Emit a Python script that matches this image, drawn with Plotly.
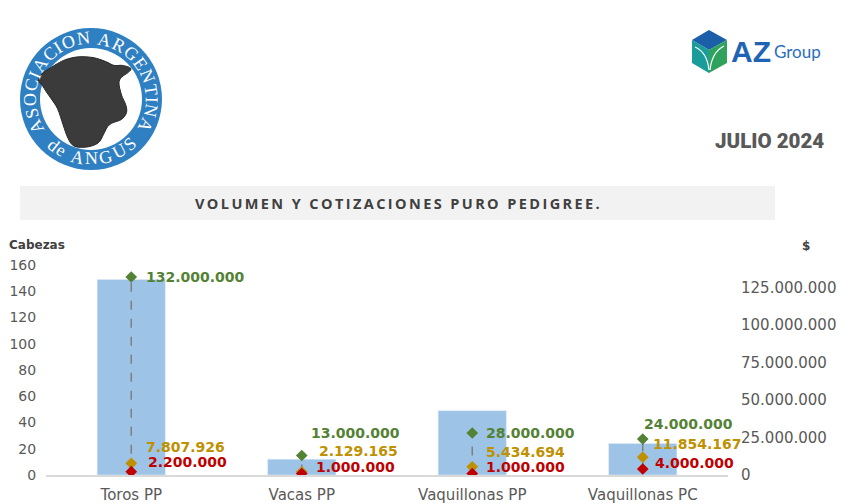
import math
import plotly.graph_objects as go

# --- data ---
categorias = ["Toros PP", "Vacas PP", "Vaquillonas PP", "Vaquillonas PC"]
cabezas = [149, 12, 49, 24]
precio_max = [132000000, 13000000, 28000000, 24000000]
precio_prom = [7807926, 2129165, 5434694, 11854167]
precio_min = [2200000, 1000000, 1000000, 4000000]

left_ticks = [0, 20, 40, 60, 80, 100, 120, 140, 160]
right_ticks = [0, 25000000, 50000000, 75000000, 100000000, 125000000]

# label offsets (px) for each point: (xshift, yshift)
off_max = [(13, 0), (7, 23), (12, 0), (-1, 15)]
off_prom = [(13, 16), (15, 21), (12, 15), (8, 13)]
off_min = [(15, 10), (12, 7), (12, 7), (10, 6)]

VERDE = "#548235"
ORO = "#BF9000"
ROJO = "#C00000"
GRIS = "#595959"

# page has an 8px body margin, so screen px = figure px + 8
OFF = 8
W, H = 850, 504
# plot area in screen pixels
X0, X1, Y0, Y1 = 46, 728, 265, 475
PW, PH = X1 - X0, Y1 - Y0


def px(x):
    return (x - X0) / PW


def py(y):
    return (Y1 - y) / PH


def fmt(v):
    return f"{v:,}".replace(",", ".")


def note(x, y, text, font, xanchor="center", **kw):
    return dict(x=px(x), y=py(y), xref="paper", yref="paper", text=text, showarrow=False,
                xanchor=xanchor, yanchor="middle", font=font, **kw)


def smooth_path(pts):
    # closed catmull-rom curve -> cubic bezier path in paper coords
    n = len(pts)
    d = f"M {px(pts[0][0]):.4f},{py(pts[0][1]):.4f}"
    for i in range(n):
        p0, p1, p2, p3 = pts[i - 1], pts[i], pts[(i + 1) % n], pts[(i + 2) % n]
        c1 = (p1[0] + (p2[0] - p0[0]) / 6, p1[1] + (p2[1] - p0[1]) / 6)
        c2 = (p2[0] - (p3[0] - p1[0]) / 6, p2[1] - (p3[1] - p1[1]) / 6)
        d += (f" C {px(c1[0]):.4f},{py(c1[1]):.4f} {px(c2[0]):.4f},{py(c2[1]):.4f}"
              f" {px(p2[0]):.4f},{py(p2[1]):.4f}")
    return d + " Z"


fig = go.Figure()

fig.add_bar(x=categorias, y=cabezas, width=0.4, marker_color="#9DC3E6",
            yaxis="y", hoverinfo="skip")

# high-low dashed lines
hx, hy = [], []
for c, lo, hi in zip(categorias, precio_min, precio_max):
    hx += [c, c, None]
    hy += [lo, hi, None]
fig.add_scatter(x=hx, y=hy, mode="lines", yaxis="y2",
                line=dict(color="#7F7F7F", width=1.5, dash="dash"), hoverinfo="skip")

for serie, color in [(precio_max, VERDE), (precio_prom, ORO), (precio_min, ROJO)]:
    fig.add_scatter(x=categorias, y=serie, mode="markers", yaxis="y2",
                    marker=dict(symbol="diamond", size=9, color=color))

annotations = []
for serie, color, offs in [(precio_max, VERDE, off_max), (precio_prom, ORO, off_prom),
                           (precio_min, ROJO, off_min)]:
    for c, v, (dx, dy) in zip(categorias, serie, offs):
        annotations.append(dict(x=c, y=v, xref="x", yref="y2", text=fmt(v),
                                showarrow=False, xanchor="left", yanchor="middle",
                                xshift=dx, yshift=dy,
                                font=dict(family="DejaVu Sans", size=14, color=color, weight="bold")))

# axis titles
lbl_font = dict(family="DejaVu Sans", size=12, color="#404040", weight="bold")
annotations.append(note(37, 245, "Cabezas", lbl_font))
annotations.append(note(806, 246, "$", lbl_font))

# title band
shapes = [dict(type="rect", xref="paper", yref="paper", x0=px(20), x1=px(775),
               y0=py(220), y1=py(186), fillcolor="#F2F2F2", line_width=0, layer="below")]
titulo = "VOLUMEN Y COTIZACIONES PURO PEDIGREE."
annotations.append(note(397, 203, "\u2009".join(titulo),
                        dict(family="Open Sans", size=14.5, color="#404040", weight="bold")))

annotations.append(note(826, 141, "JULIO 2024",
                        dict(family="Roboto", size=20.5, color=GRIS, weight=900), xanchor="right"))

# --- Angus logo ---
cx, cy, r_out, r_in = 91, 99, 71, 51
shapes.append(dict(type="circle", xref="paper", yref="paper", x0=px(cx - r_out), x1=px(cx + r_out),
                   y0=py(cy + r_out), y1=py(cy - r_out), fillcolor="#2F80C2", line_width=0))
shapes.append(dict(type="circle", xref="paper", yref="paper", x0=px(cx - r_in), x1=px(cx + r_in),
                   y0=py(cy + r_in), y1=py(cy - r_in), fillcolor="white", line_width=0))
bull = [(39.6, 76.5), (45.1, 71.3), (51.3, 67.4), (57.6, 63.5), (65.9, 59.5), (78.5, 56.8),
        (93.1, 57.6), (105.6, 61.5), (114.0, 65.4), (122.3, 65.4), (130.7, 68.2), (128.6, 72.1),
        (121.5, 77.3), (119.0, 83.2), (121.5, 95.0), (125.7, 104.8), (126.5, 112.7),
        (121.5, 119.4), (113.1, 122.6), (107.7, 126.5), (103.5, 134.4), (98.1, 143.0),
        (86.8, 147.0), (74.3, 146.2), (68.0, 138.3), (63.0, 124.5), (57.6, 108.8),
        (51.3, 98.9), (46.3, 91.8), (42.1, 85.1), (38.8, 81.2)]
shapes.append(dict(type="path", xref="paper", yref="paper", path=smooth_path(bull),
                   fillcolor="#3B3B3B", line=dict(color="#262626", width=1)))

# approximate serif glyph widths, so letters sit evenly along the ring
glyph_w = {"A": .72, "S": .56, "O": .72, "C": .67, "I": .33, "N": .72, "R": .67, "G": .72,
           "E": .61, "T": .61, "U": .72, "d": .5, "e": .44, " ": .3}


def ring_text(text, r, a_start, a_end, upright_top, font):
    w = [glyph_w[c] for c in text]
    tot = sum(w)
    pos = 0
    out = []
    for c, wi in zip(text, w):
        f = (pos + wi / 2) / tot
        pos += wi
        a = a_start + (a_end - a_start) * f
        ar = math.radians(a)
        ang = 90 - a if upright_top else 270 - a
        out.append(note(cx + r * math.cos(ar), cy - r * math.sin(ar), c, font, textangle=ang))
    return out


ring_font = dict(family="Liberation Serif", size=18, color="white")
annotations += ring_text("ASOCIACION ARGENTINA", 61, 214, -33, True, ring_font)
annotations += ring_text("de ANGUS", 59.5, 226, 316, False, ring_font)


# --- AZ Group logo ---
def poly(pts, color):
    p = "M " + " L ".join(f"{px(x):.4f},{py(y):.4f}" for x, y in pts) + " Z"
    return dict(type="path", xref="paper", yref="paper", path=p, fillcolor=color, line_width=0)


shapes.append(poly([(709, 30), (727, 40), (709, 50), (692, 40)], "#1B5FA8"))
shapes.append(poly([(692, 40), (709, 50), (709, 73), (692, 63)], "#1A9C9A"))
shapes.append(poly([(709, 50), (727, 40), (727, 63), (709, 73)], "#2FA35E"))
shapes.append(dict(type="path", xref="paper", yref="paper",
                   path=f"M {px(695):.4f},{py(47):.4f} Q {px(707):.4f},{py(52):.4f} {px(709):.4f},{py(70):.4f}",
                   line=dict(color="white", width=1.2)))
shapes.append(dict(type="path", xref="paper", yref="paper",
                   path=f"M {px(724):.4f},{py(46):.4f} Q {px(712):.4f},{py(52):.4f} {px(710):.4f},{py(70):.4f}",
                   line=dict(color="white", width=1.2)))
annotations.append(note(729, 51, "AZ", dict(family="Liberation Sans", size=30, color="#1F64B4",
                                             weight="bold"), xanchor="left"))
annotations.append(note(772, 51, "Group", dict(family="Lato", size=17, color="#2A6EBB"),
                        xanchor="left"))

fig.update_layout(
    width=W, height=H, autosize=False,
    margin=dict(l=X0 - OFF, r=W - (X1 - OFF), t=Y0 - OFF, b=H - (Y1 - OFF)),
    paper_bgcolor="white", plot_bgcolor="white",
    showlegend=False,
    bargap=0.6,
    xaxis=dict(range=[-0.5, 3.5], showline=True, linecolor="#D9D9D9", linewidth=1.5,
               showgrid=False, automargin=False,
               tickfont=dict(family="DejaVu Sans", size=15, color=GRIS),
               ticks="outside", ticklen=5, tickcolor="rgba(0,0,0,0)"),
    yaxis=dict(range=[0, 160], tickvals=left_ticks, showgrid=False, zeroline=False, automargin=False,
               tickfont=dict(family="DejaVu Sans", size=14, color=GRIS),
               ticks="outside", ticklen=6, tickcolor="rgba(0,0,0,0)"),
    yaxis2=dict(range=[0, 140000000], tickvals=right_ticks,
                ticktext=[fmt(v) for v in right_ticks],
                overlaying="y", side="right", showgrid=False, zeroline=False, automargin=False,
                tickfont=dict(family="DejaVu Sans", size=15, color=GRIS),
                ticks="outside", ticklen=9, tickcolor="rgba(0,0,0,0)"),
    shapes=shapes,
    annotations=annotations,
)

fig.write_html("out.html")
